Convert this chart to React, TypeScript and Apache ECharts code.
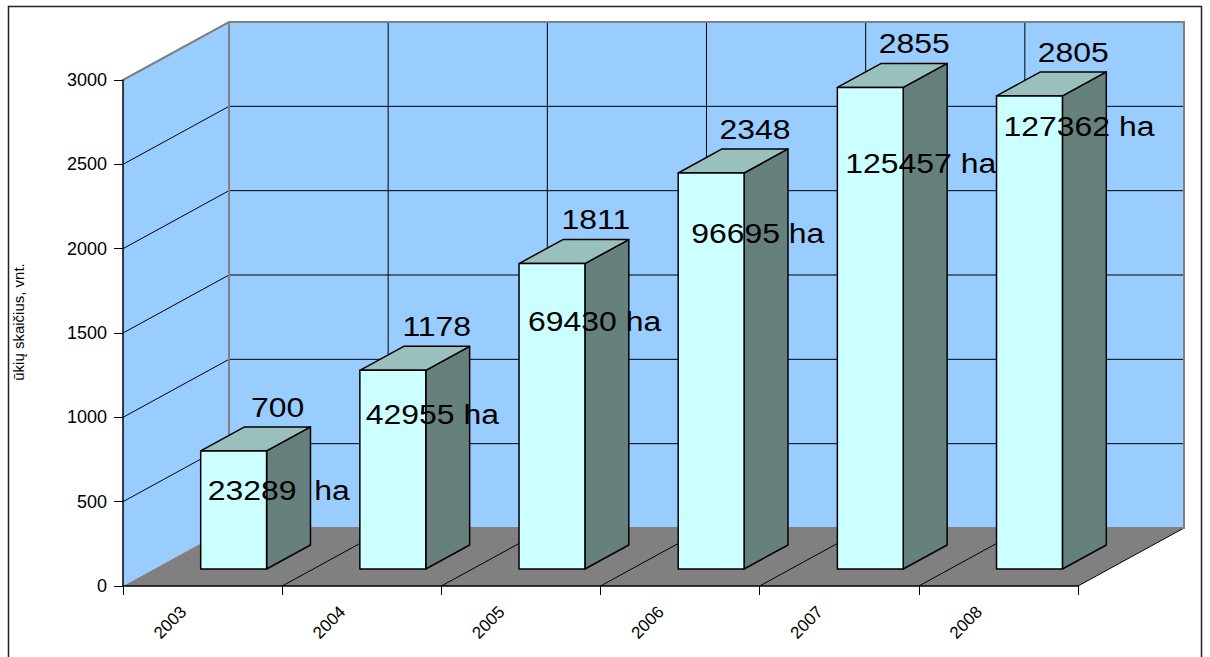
import React, { useEffect, useRef } from "react";
import * as echarts from "echarts";

// ---- data ----
const categories = ["2003", "2004", "2005", "2006", "2007", "2008"];
const farmCounts = [700, 1178, 1811, 2348, 2855, 2805];
const haLabels = ["23289  ha", "42955 ha", "69430 ha", "96695 ha", "125457 ha", "127362 ha"];
const yTicks = [0, 500, 1000, 1500, 2000, 2500, 3000];
const yTitle = "ūkių skaičius, vnt.";

// ---- layout / style constants ----
const DX = 106; // depth offset of the 3D box (px)
const DY = -58;
const F0 = 0.293; // bar front plane depth fraction
const F1 = 0.707; // bar back plane depth fraction
const BAR_W = 0.414; // bar width as fraction of category band
const haDrop = [39, 44, 58, 60, 76, 30];
const haDx = [7, 6, 9, 13, 8, 7];
const FONT = "'Liberation Sans', Arial, sans-serif";

const WALL = "#99CCFF";
const FLOOR = "#808080";
const EDGE = "#808080";
const BAR_FRONT = "#CCFFFF";
const BAR_TOP = "#99C0BC";
const BAR_SIDE = "#66807E";

export default function App() {
  const ref = useRef<HTMLDivElement>(null);
  useEffect(() => {
    if (!ref.current) return;
    const chart = echarts.init(ref.current, null, { renderer: "svg" });
    const yMin = yTicks[0];
    const yMax = yTicks[yTicks.length - 1];
    const interval = yTicks[1] - yTicks[0];

    const wallsRender = (params: any, api: any) => {
      const band = api.size([1, 0])[0];
      const x0 = api.coord([0, yMin])[0] - band / 2;
      const x1 = api.coord([categories.length - 1, yMin])[0] + band / 2;
      const yb = api.coord([0, yMin])[1];
      const yt = api.coord([0, yMax])[1];
      const children: any[] = [];
      children.push({
        type: "polygon",
        shape: { points: [[x0, yb], [x0, yt], [x0 + DX, yt + DY], [x0 + DX, yb + DY]] },
        style: { fill: WALL, stroke: null },
      });
      children.push({
        type: "polygon",
        shape: { points: [[x0 + DX, yb + DY], [x0 + DX, yt + DY], [x1 + DX, yt + DY], [x1 + DX, yb + DY]] },
        style: { fill: WALL, stroke: null },
      });
      children.push({
        type: "polygon",
        shape: { points: [[x0, yb], [x1, yb], [x1 + DX, yb + DY], [x0 + DX, yb + DY]] },
        style: { fill: FLOOR, stroke: null },
      });
      yTicks.forEach((v) => {
        if (v === yMin || v === yMax) return;
        const y = api.coord([0, v])[1];
        children.push({
          type: "polyline",
          shape: { points: [[x0, y], [x0 + DX, y + DY], [x1 + DX, y + DY]] },
          style: { stroke: "#000", lineWidth: 1, fill: null },
        });
      });
      for (let i = 1; i <= categories.length; i++) {
        const x = x0 + band * i;
        if (i < categories.length) {
          children.push({
            type: "line",
            shape: { x1: x + DX, y1: yt + DY, x2: x + DX, y2: yb + DY },
            style: { stroke: "#000", lineWidth: 1 },
          });
        }
        children.push({
          type: "line",
          shape: { x1: x, y1: yb, x2: x + DX, y2: yb + DY },
          style: { stroke: "#000", lineWidth: 1 },
        });
      }
      children.push({
        type: "polyline",
        shape: { points: [[x0, yt], [x0 + DX, yt + DY], [x1 + DX, yt + DY], [x1 + DX, yb + DY], [x0 + DX, yb + DY], [x0 + DX, yt + DY]] },
        style: { stroke: EDGE, lineWidth: 2, fill: null },
      });
      return { type: "group", children };
    };

    const barsRender = (params: any, api: any) => {
      const i = api.value(0);
      const v = api.value(1);
      const band = api.size([1, 0])[0];
      const [cx, yb] = api.coord([i, yMin]);
      const yt = api.coord([i, v])[1];
      const w = band * BAR_W;
      const left = cx - w / 2 + DX * F0;
      const right = left + w;
      const top = yt + DY * F0;
      const bottom = yb + DY * F0;
      const bx = DX * (F1 - F0);
      const by = DY * (F1 - F0);
      const st = { stroke: "#000", lineWidth: 1.5, lineJoin: "round" };
      return {
        type: "group",
        children: [
          {
            type: "polygon",
            shape: { points: [[right, top], [right + bx, top + by], [right + bx, bottom + by], [right, bottom]] },
            style: { fill: BAR_SIDE, ...st },
          },
          {
            type: "polygon",
            shape: { points: [[left, top], [right, top], [right + bx, top + by], [left + bx, top + by]] },
            style: { fill: BAR_TOP, ...st },
          },
          {
            type: "rect",
            shape: { x: left, y: top, width: w, height: bottom - top },
            style: { fill: BAR_FRONT, ...st },
          },
        ],
      };
    };

    const labelsRender = (params: any, api: any) => {
      const i = api.value(0);
      const v = api.value(1);
      const band = api.size([1, 0])[0];
      const cx = api.coord([i, yMin])[0];
      const yt = api.coord([i, v])[1];
      const w = band * BAR_W;
      const left = cx - w / 2 + DX * F0;
      return {
        type: "group",
        children: [
          {
            type: "text",
            x: cx + DX * F1,
            y: yt + DY * F1 - 20,
            scaleX: 1.14,
            style: {
              text: String(farmCounts[i]),
              fontSize: 28,
              fontFamily: FONT,
              fill: "#000",
              align: "center",
              verticalAlign: "middle",
            },
          },
          {
            type: "text",
            x: left + haDx[i],
            y: yt + DY * F0 + haDrop[i],
            scaleX: 1.14,
            style: {
              text: haLabels[i],
              fontSize: 28,
              fontFamily: FONT,
              fill: "#000",
              align: "left",
              verticalAlign: "middle",
            },
          },
        ],
      };
    };

    const barData = farmCounts.map((v, i) => [i, v]);

    chart.setOption({
      animation: false,
      backgroundColor: "#fff",
      textStyle: { fontFamily: FONT },
      grid: { left: 123, top: 80, width: 955, height: 506 },
      graphic: [
        {
          type: "rect",
          shape: { x: 8.5, y: 6.5, width: 1193, height: 700 },
          style: { fill: null, stroke: "#222", lineWidth: 1.5 },
          z: 100,
        },
      ],
      xAxis: {
        type: "category",
        data: categories,
        boundaryGap: true,
        z: 10,
        axisLine: { show: true, lineStyle: { color: "#000", width: 1.5 } },
        axisTick: { show: true, length: 9, lineStyle: { color: "#000" } },
        axisLabel: {
          rotate: 45,
          margin: 4,
          fontSize: 17,
          color: "#000",
          fontFamily: FONT,
          padding: [0, 27, 0, 0],
        },
        splitLine: { show: false },
      },
      yAxis: {
        type: "value",
        min: yMin,
        max: yMax,
        interval,
        z: 10,
        name: yTitle,
        nameLocation: "middle",
        nameRotate: 90,
        nameGap: 97,
        nameTextStyle: { fontSize: 15, color: "#000", fontFamily: FONT, padding: [0, 0, 0, 22] },
        axisLine: { show: true, lineStyle: { color: "#000", width: 1.5 } },
        axisTick: { show: true, length: 9, lineStyle: { color: "#000" } },
        axisLabel: {
          margin: 16,
          fontSize: 18,
          color: "#000",
          fontFamily: FONT,
          formatter: (v: number) => String(v),
        },
        splitLine: { show: false },
      },
      series: [
        {
          type: "custom",
          name: "walls",
          renderItem: wallsRender,
          data: [[0, 0]],
          clip: false,
          silent: true,
          z: 1,
        },
        {
          type: "custom",
          name: "ūkių skaičius",
          renderItem: barsRender,
          data: barData,
          encode: { x: 0, y: 1 },
          clip: false,
          z: 3,
        },
        {
          type: "custom",
          name: "labels",
          renderItem: labelsRender,
          data: barData,
          encode: { x: 0, y: 1 },
          clip: false,
          silent: true,
          z: 5,
        },
      ],
    });
    return () => chart.dispose();
  }, []);

  return (
    <div
      ref={ref}
      style={{ position: "fixed", left: 0, top: 0, width: 1210, height: 657, background: "#fff" }}
    />
  );
}
